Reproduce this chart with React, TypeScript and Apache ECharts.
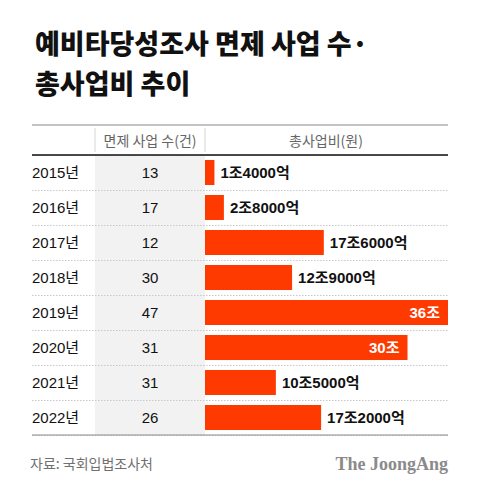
import React, { useEffect, useRef } from "react";
import * as echarts from "echarts";

const years = ["2015년", "2016년", "2017년", "2018년", "2019년", "2020년", "2021년", "2022년"];
const exemptCounts = [13, 17, 12, 30, 47, 31, 31, 26];
const totalCostTrillion = [1.4, 2.8, 17.6, 12.9, 36, 30, 10.5, 17.2];
const totalCostLabels = ["1조4000억", "2조8000억", "17조6000억", "12조9000억", "36조", "30조", "10조5000억", "17조2000억"];

const FONT = "'Liberation Sans', 'Noto Sans CJK KR', sans-serif";
const KFONT = "'Noto Sans CJK KR', 'Liberation Sans', sans-serif";
const BAR = "#ff3a00";

export default function App() {
  const ref = useRef<HTMLDivElement>(null);
  useEffect(() => {
    if (!ref.current) return;
    const chart = echarts.init(ref.current, null, { renderer: "svg" });
    const gridLeft = 32;
    const gridRight = 448;
    const zeroX = 205;
    const maxV = 36;
    const minV = -((zeroX - gridLeft) / (gridRight - zeroX)) * maxV;
    const top = 155;
    const bottom = 435;

    chart.setOption({
      animation: false,
      backgroundColor: "#ffffff",
      title: {
        text: "예비타당성조사 면제 사업 수·\n총사업비 추이",
        left: 30,
        top: 17,
        textStyle: {
          fontFamily: KFONT,
          fontSize: 27,
          fontWeight: 900,
          lineHeight: 40,
          color: "#111",
        },
      },
      grid: { left: gridLeft, right: 480 - gridRight, top, bottom: 491 - bottom, containLabel: false },
      xAxis: {
        type: "value",
        min: minV,
        max: maxV,
        show: false,
      },
      yAxis: {
        type: "category",
        data: years,
        inverse: true,
        axisLine: { show: false },
        axisTick: { show: false },
        splitLine: { show: true, lineStyle: { color: "#c8c8c8", type: [1.5, 1.5], width: 1 } },
        axisLabel: {
          inside: true,
          margin: 0,
          align: "left",
          formatter: (value: string, idx: number) => `{y|${value}}{c|${exemptCounts[idx]}}`,
          rich: {
            y: { width: 63, fontSize: 15, fontFamily: FONT, color: "#111", align: "left" },
            c: { width: 110, fontSize: 15, fontFamily: FONT, color: "#111", align: "center" },
          },
        },
        z: 1,
      },
      series: [
        {
          type: "bar",
          barWidth: 25,
          itemStyle: { color: BAR },
          z: 3,
          data: totalCostTrillion.map((v, i) => {
            const inside = v > 25;
            return {
              value: v,
              label: {
                show: true,
                position: inside ? "insideRight" : "right",
                distance: inside ? 8 : 6,
                formatter: totalCostLabels[i],
                color: inside ? "#ffffff" : "#111",
                fontSize: 15,
                fontWeight: "bold",
                fontFamily: FONT,
              },
            };
          }),
        },
      ],
      graphic: {
        elements: [
          { type: "rect", z: -1, shape: { x: 95, y: top, width: zeroX - 95, height: bottom - top }, style: { fill: "#f2f2f2" } },
          { type: "line", z: 10, shape: { x1: gridLeft, y1: 125, x2: gridRight, y2: 125 }, style: { stroke: "#c4c4c4", lineWidth: 2 } },
          { type: "line", z: 10, shape: { x1: gridLeft, y1: top, x2: gridRight, y2: top }, style: { stroke: "#111", lineWidth: 1.5 } },
          { type: "line", z: 10, shape: { x1: gridLeft, y1: bottom, x2: gridRight, y2: bottom }, style: { stroke: "#8a8a8a", lineWidth: 1 } },
          { type: "line", z: 10, shape: { x1: 95, y1: 128, x2: 95, y2: 152 }, style: { stroke: "#d6d6d6", lineWidth: 1 } },
          { type: "line", z: 10, shape: { x1: zeroX, y1: 128, x2: zeroX, y2: 152 }, style: { stroke: "#d6d6d6", lineWidth: 1 } },
          {
            type: "text", z: 10, x: 150, y: 140,
            style: { text: "면제 사업 수(건)", fill: "#666", font: `14px ${KFONT}`, textAlign: "center", textVerticalAlign: "middle" },
          },
          {
            type: "text", z: 10, x: 326, y: 140,
            style: { text: "총사업비(원)", fill: "#666", font: `14px ${KFONT}`, textAlign: "center", textVerticalAlign: "middle" },
          },
          {
            type: "text", z: 10, x: 30, y: 463,
            style: { text: "자료: 국회입법조사처", fill: "#707070", font: `14px ${KFONT}`, textAlign: "left", textVerticalAlign: "middle" },
          },
          {
            type: "text", z: 10, x: 448, y: 464,
            style: { text: "The JoongAng", fill: "#8a8a8a", font: `bold 18px 'Liberation Serif', 'DejaVu Serif', serif`, textAlign: "right", textVerticalAlign: "middle" },
          },
        ],
      },
    });
    return () => chart.dispose();
  }, []);
  return <div ref={ref} style={{ position: "fixed", left: 0, top: 0, width: 480, height: 491 }} />;
}
